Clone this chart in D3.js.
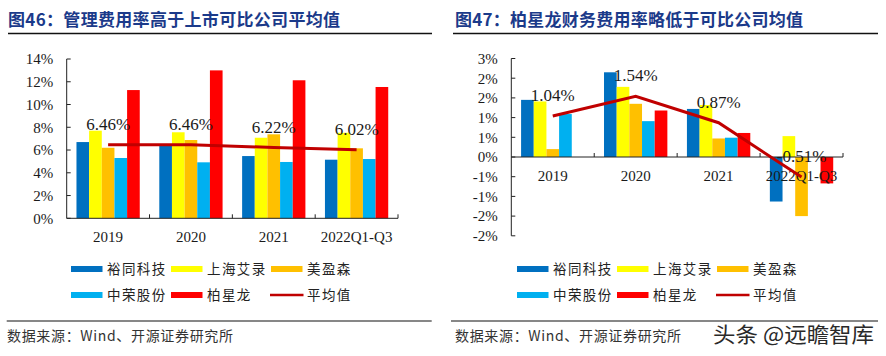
<!DOCTYPE html>
<html><head><meta charset="utf-8">
<script src="https://cdn.jsdelivr.net/npm/d3@7"></script>
<style>body{margin:0;background:#fff}</style></head>
<body>
<svg id="c" width="886" height="356"></svg>
<script>
// ---------- DATA ----------
const categories = ["2019", "2020", "2021", "2022Q1-Q3"];
const seriesNames = ["裕同科技", "上海艾录", "美盈森", "中荣股份", "柏星龙"];
const avgName = "平均值";

// 图46 管理费用率 (%)
const mgmtYutong = [6.70, 6.50, 5.47, 5.15];
const mgmtAilu = [7.70, 7.56, 7.08, 7.52];
const mgmtMeiyingsen = [6.20, 6.88, 7.38, 6.15];
const mgmtZhongrong = [5.30, 4.92, 4.95, 5.21];
const mgmtBaixinglong = [11.27, 13.00, 12.13, 11.54];
const mgmtAvg = [6.46, 6.46, 6.22, 6.02];
const mgmtTicks = [0, 2, 4, 6, 8, 10, 12, 14];

// 图47 财务费用率 (%)
const finYutong = [1.45, 2.15, 1.22, -1.13];
const finAilu = [1.41, 1.78, 1.32, 0.53];
const finMeiyingsen = [0.20, 1.35, 0.47, -1.50];
const finZhongrong = [1.09, 0.91, 0.49, null];
const finBaixinglong = [null, 1.18, 0.61, -0.67];
const finAvg = [1.04, 1.54, 0.87, -0.51];
const finTicks = [-2, -1.5, -1, -0.5, 0, 0.5, 1, 1.5, 2, 2.5];

const titles = ["图46：管理费用率高于上市可比公司平均值", "图47：柏星龙财务费用率略低于可比公司均值"];
const sourceText = "数据来源：Wind、开源证券研究所";
const watermark = "头条 @远瞻智库";

const colors = ["#0070C0", "#FFFF00", "#FFC000", "#00B0F0", "#FF0000"];
const lineColor = "#C00000";

// ---------- DRAW ----------
const svg = d3.select("#c");
const serif = "'Liberation Serif','Times New Roman',serif";
const cjk = "'Noto Sans CJK SC','Noto Sans',sans-serif";

function roundLabel(v) {
  const r = Math.sign(v) * Math.round(Math.abs(v));
  return (r === 0 ? 0 : r) + "%";
}

function panel(opt) {
  const g = svg.append("g");
  // title
  g.append("text").attr("x", opt.titleX).attr("y", 26)
    .attr("font-family", cjk).attr("font-weight", 700).attr("font-size", 17)
    .attr("fill", "#1B3A8A").attr("textLength", opt.titleLen).attr("lengthAdjust", "spacing")
    .text(opt.title);
  g.append("line").attr("x1", opt.ruleX1).attr("x2", opt.ruleX2).attr("y1", 33.5).attr("y2", 33.5)
    .attr("stroke", "#111").attr("stroke-width", 1.3);

  const x = d3.scaleBand().domain(categories).range(opt.xRange).padding(0);
  const y = d3.scaleLinear().domain(opt.yDomain).range(opt.yRange);
  const inner = d3.scaleBand().domain(d3.range(seriesNames.length))
    .range([x.bandwidth() * 0.118, x.bandwidth() * 0.882]).padding(0);

  // bars
  opt.series.forEach((vals, si) => {
    g.append("g").selectAll("rect").data(categories.map((c, i) => ({ c, v: vals[i] })).filter(d => d.v != null))
      .join("rect")
      .attr("x", d => x(d.c) + inner(si))
      .attr("width", inner.bandwidth())
      .attr("y", d => y(Math.max(0, d.v)))
      .attr("height", d => Math.abs(y(d.v) - y(0)))
      .attr("fill", colors[si]);
  });

  // y axis
  const yAxis = d3.axisLeft(y).tickValues(opt.ticks).tickSize(0).tickPadding(13.5).tickFormat(opt.fmt);
  const ya = g.append("g").attr("transform", `translate(${opt.xRange[0]},0)`).call(yAxis);
  ya.select(".domain").remove();
  ya.selectAll("text").attr("font-family", serif).attr("font-size", 15).attr("fill", "#1a1a1a");
  g.append("line").attr("x1", opt.xRange[0]).attr("x2", opt.xRange[0])
    .attr("y1", y(opt.yDomain[0])).attr("y2", y(opt.yDomain[1])).attr("stroke", "#222").attr("stroke-width", 1);
  g.append("g").selectAll("line").data(opt.ticks).join("line")
    .attr("x1", opt.xRange[0]).attr("x2", opt.xRange[0] + 4)
    .attr("y1", d => y(d)).attr("y2", d => y(d)).attr("stroke", "#222");

  // x axis at zero
  const y0 = y(0);
  g.append("line").attr("x1", opt.xRange[0]).attr("x2", opt.xRange[1]).attr("y1", y0).attr("y2", y0)
    .attr("stroke", "#222").attr("stroke-width", 1);
  const bounds = categories.map(c => x(c)).slice(1).concat([opt.xRange[1]]);
  g.append("g").selectAll("line").data(bounds).join("line")
    .attr("x1", d => d).attr("x2", d => d).attr("y1", y0).attr("y2", y0 - 4).attr("stroke", "#222");
  g.append("g").selectAll("text").data(categories).join("text")
    .attr("x", d => x(d) + x.bandwidth() / 2).attr("y", y0 + 24)
    .attr("text-anchor", "middle").attr("font-family", serif).attr("font-size", 15).attr("fill", "#1a1a1a")
    .text(d => d);

  // average line
  const line = d3.line().x((d, i) => x(categories[i]) + x.bandwidth() / 2).y(d => y(d));
  g.append("path").datum(opt.avg).attr("d", line).attr("fill", "none")
    .attr("stroke", lineColor).attr("stroke-width", 3);
  g.append("g").selectAll("text").data(opt.avg).join("text")
    .attr("x", (d, i) => x(categories[i]) + x.bandwidth() / 2).attr("y", d => y(d) - 15)
    .attr("text-anchor", "middle").attr("font-family", serif).attr("font-size", 17).attr("fill", "#1a1a1a")
    .text(d => d.toFixed(2) + "%");

  // legend
  const lx = opt.legendX, rows = [269, 295];
  const items = seriesNames.map((n, i) => ({ n, i, type: "bar" })).concat([{ n: avgName, i: 5, type: "line" }]);
  items.forEach((it, k) => {
    const col = k % 3, row = Math.floor(k / 3);
    const sx = lx + col * 100, cy = rows[row];
    if (it.type === "bar") {
      g.append("rect").attr("x", sx).attr("y", cy - 3).attr("width", 31.5).attr("height", 6).attr("fill", colors[it.i]);
    } else {
      g.append("line").attr("x1", sx - 1).attr("x2", sx + 32.5).attr("y1", cy).attr("y2", cy)
        .attr("stroke", lineColor).attr("stroke-width", 2.5);
    }
    g.append("text").attr("x", sx + 36).attr("y", cy + 5)
      .attr("font-family", cjk).attr("font-size", 13.5).attr("letter-spacing", 1.4).attr("fill", "#222")
      .text(it.n);
  });

  // bottom rule and source
  g.append("line").attr("x1", opt.botX1).attr("x2", opt.botX2).attr("y1", 321).attr("y2", 321)
    .attr("stroke", "#111").attr("stroke-width", 1.2);
  g.append("text").attr("x", opt.srcX).attr("y", 341)
    .attr("font-family", cjk).attr("font-size", 14).attr("fill", "#333")
    .attr("textLength", 226).attr("lengthAdjust", "spacing").text(sourceText);
}

panel({
  title: titles[0], titleX: 8, titleLen: 332, ruleX1: 8, ruleX2: 432,
  xRange: [66.7, 398], yDomain: [0, 14], yRange: [218.3, 59], ticks: mgmtTicks,
  fmt: d => d + "%",
  series: [mgmtYutong, mgmtAilu, mgmtMeiyingsen, mgmtZhongrong, mgmtBaixinglong], avg: mgmtAvg,
  legendX: 71, botX1: 6.7, botX2: 431.7, srcX: 7
});
panel({
  title: titles[1], titleX: 455, titleLen: 348, ruleX1: 453, ruleX2: 878,
  xRange: [511.3, 843], yDomain: [-2, 2.5], yRange: [235.8, 58.5], ticks: finTicks,
  fmt: roundLabel,
  series: [finYutong, finAilu, finMeiyingsen, finZhongrong, finBaixinglong], avg: finAvg,
  legendX: 517, botX1: 451, botX2: 878, srcX: 455
});

svg.append("text").attr("x", 713).attr("y", 342)
  .attr("font-family", cjk).attr("font-size", 21).attr("fill", "#2a2a2a")
  .attr("textLength", 161).attr("lengthAdjust", "spacingAndGlyphs").text(watermark);
</script>
</body></html>
